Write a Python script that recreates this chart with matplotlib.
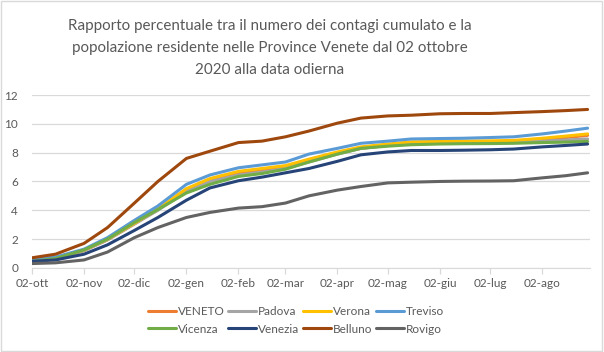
import datetime as dt
import matplotlib
matplotlib.use('Agg')
import matplotlib.pyplot as plt
from matplotlib.patches import Rectangle

plt.rcParams['font.family'] = ['Lato', 'DejaVu Sans']

# dates (every ~2 weeks)
date_str = ['2020-10-02', '2020-10-16', '2020-11-02', '2020-11-16', '2020-12-02',
            '2020-12-16', '2021-01-02', '2021-01-16', '2021-02-02', '2021-02-16',
            '2021-03-02', '2021-03-16', '2021-04-02', '2021-04-16', '2021-05-02',
            '2021-05-16', '2021-06-02', '2021-06-16', '2021-07-02', '2021-07-16',
            '2021-08-02', '2021-08-16', '2021-08-29']
dates = [dt.datetime.strptime(s, '%Y-%m-%d') for s in date_str]

veneto  = [0.50, 0.65, 1.20, 1.95, 3.05, 4.05, 5.40, 6.10, 6.60, 6.80, 7.00, 7.45,
           7.95, 8.30, 8.50, 8.65, 8.70, 8.72, 8.74, 8.77, 8.92, 9.05, 9.20]
padova  = [0.50, 0.65, 1.20, 1.95, 3.05, 4.00, 5.30, 6.00, 6.45, 6.65, 6.90, 7.35,
           7.90, 8.30, 8.50, 8.60, 8.65, 8.67, 8.68, 8.70, 8.80, 8.88, 8.95]
verona  = [0.55, 0.70, 1.25, 2.00, 3.10, 4.10, 5.50, 6.20, 6.70, 6.90, 7.10, 7.55,
           8.05, 8.40, 8.60, 8.75, 8.78, 8.80, 8.82, 8.85, 9.00, 9.15, 9.30]
treviso = [0.60, 0.75, 1.30, 2.10, 3.30, 4.30, 5.80, 6.45, 6.95, 7.15, 7.35, 7.90,
           8.30, 8.65, 8.80, 8.95, 8.98, 9.00, 9.05, 9.10, 9.30, 9.50, 9.70]
vicenza = [0.45, 0.65, 1.25, 2.00, 3.15, 4.05, 5.20, 5.80, 6.35, 6.55, 6.85, 7.35,
           7.90, 8.30, 8.45, 8.55, 8.60, 8.62, 8.63, 8.65, 8.70, 8.73, 8.78]
venezia = [0.45, 0.55, 0.95, 1.60, 2.60, 3.50, 4.70, 5.55, 6.05, 6.30, 6.60, 6.90,
           7.40, 7.85, 8.05, 8.15, 8.15, 8.17, 8.20, 8.25, 8.40, 8.50, 8.60]
belluno = [0.70, 0.95, 1.70, 2.80, 4.50, 6.00, 7.60, 8.10, 8.70, 8.80, 9.10, 9.50,
           10.05, 10.40, 10.55, 10.60, 10.70, 10.72, 10.72, 10.78, 10.85, 10.92, 11.00]
rovigo  = [0.30, 0.35, 0.55, 1.10, 2.10, 2.80, 3.50, 3.85, 4.15, 4.25, 4.50, 5.00,
           5.40, 5.65, 5.90, 5.95, 6.00, 6.02, 6.03, 6.05, 6.25, 6.40, 6.60]

names = ['VENETO', 'Padova', 'Verona', 'Treviso', 'Vicenza', 'Venezia', 'Belluno', 'Rovigo']
series = [veneto, padova, verona, treviso, vicenza, venezia, belluno, rovigo]
colors = ['#ED7D31', '#A5A5A5', '#FFC000', '#5B9BD5', '#70AD47', '#264478', '#9E480E', '#636363']
tick_str = ['2020-10-02', '2020-11-02', '2020-12-02', '2021-01-02', '2021-02-02', '2021-03-02',
            '2021-04-02', '2021-05-02', '2021-06-02', '2021-07-02', '2021-08-02']
tick_labels = ['02-ott', '02-nov', '02-dic', '02-gen', '02-feb', '02-mar',
               '02-apr', '02-mag', '02-giu', '02-lug', '02-ago']

txt = '#595959'
grid = '#D9D9D9'

fig = plt.figure(figsize=(6.04, 3.52), dpi=100)
ax = fig.add_axes([0.053, 0.239, 0.924, 0.491])

lines = {}
for name, vals, c in zip(names, series, colors):
    ln, = ax.plot(dates, vals, color=c, lw=2.2, solid_capstyle='round')
    lines[name] = ln

ax.set_ylim(0, 12)
ax.set_yticks(range(0, 13, 2))
ax.set_xlim(dt.datetime(2020, 10, 2), dt.datetime(2021, 8, 30, 12))
ax.set_xticks([dt.datetime.strptime(s, '%Y-%m-%d') for s in tick_str])
ax.set_xticklabels(tick_labels)
ax.grid(axis='y', color=grid, lw=0.9)
ax.set_axisbelow(True)
for s in ['left', 'right', 'top']:
    ax.spines[s].set_visible(False)
ax.spines['bottom'].set_color(grid)
ax.tick_params(axis='x', colors=grid, length=4, width=0.9, labelcolor=txt, labelsize=8.5, pad=3)
ax.tick_params(axis='y', length=0, labelcolor=txt, labelsize=8.5, pad=10)

fig.text(0.447, 0.864, 'Rapporto percentuale tra il numero dei contagi cumulato e la\n'
         'popolazione residente nelle Province Venete dal 02 ottobre\n2020 alla data odierna',
         ha='center', va='center', fontsize=10.9, color=txt, linespacing=1.72)

order = ['VENETO', 'Vicenza', 'Padova', 'Venezia', 'Verona', 'Belluno', 'Treviso', 'Rovigo']
leg = fig.legend([lines[n] for n in order], order, loc='center', bbox_to_anchor=(0.49, 0.09),
                 ncol=4, frameon=False, fontsize=8.5, handlelength=2.4, handletextpad=0.15,
                 columnspacing=0.3, labelspacing=0.55, labelcolor=txt)

fig.patches.append(Rectangle((0.002, 0.003), 0.995, 0.994, transform=fig.transFigure,
                             fill=False, edgecolor=grid, lw=1))

fig.savefig('out.png', dpi=100)
